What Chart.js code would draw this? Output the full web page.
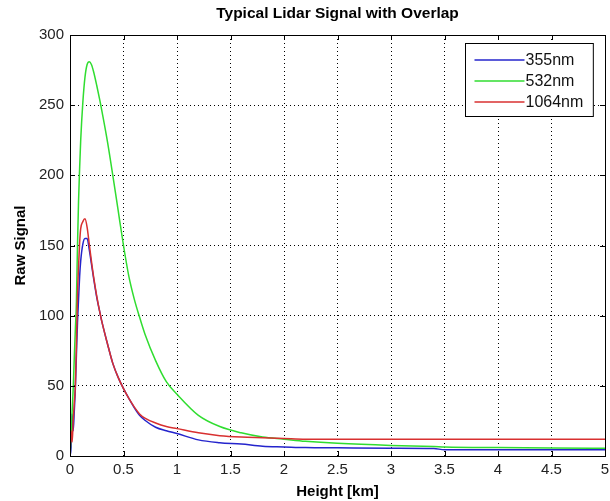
<!DOCTYPE html>
<html>
<head>
<meta charset="utf-8">
<script src="https://cdn.jsdelivr.net/npm/chart.js@4"></script>
<style>
  html, body { margin: 0; padding: 0; background: #fff; }
  #wrap { width: 610px; height: 501px; }
</style>
</head>
<body>
<div id="wrap"><canvas id="c" width="610" height="501"></canvas></div>
<script>
// values (height in km, raw signal)
const heights = [0, 0.01, 0.02, 0.03, 0.04, 0.05, 0.06, 0.07, 0.08, 0.09, 0.1, 0.12, 0.14, 0.16, 0.18,
  0.2, 0.22, 0.25, 0.28, 0.3, 0.35, 0.4, 0.45, 0.5, 0.55, 0.6, 0.65, 0.7, 0.8, 0.9, 1.0,
  1.2, 1.4, 1.6, 1.8, 2.0, 2.2, 2.5, 3.0, 3.4, 3.5, 4.0, 4.5, 5.0];

const signal355 = [0, 6, 30, 18, 32, 48, 72, 95, 112, 128, 139, 151, 155, 155, 147,
  137, 127, 113, 102, 95, 80, 66, 56, 48, 41, 34.5, 29, 25.5, 20.5, 18, 16,
  11.5, 9.5, 8.5, 7, 6.5, 6, 5.8, 5.5, 5.3, 4.5, 4.5, 4.5, 4.5];

const signal532 = [0, 15, 32, 48, 70, 90, 110, 150, 182, 205, 225, 252, 270, 279, 281,
  279, 274, 264, 253, 245, 224, 200, 175, 150, 128, 112, 99, 87, 68, 53, 44,
  29, 21, 16.5, 13.5, 12, 10.5, 9, 7.5, 6.8, 6.5, 6, 5.7, 5.5];

const signal1064 = [0, 18, 10, 25, 38, 50, 80, 115, 135, 152, 162, 167, 169, 163, 151,
  139, 128, 114, 102, 95, 80, 66, 56, 48, 41, 35, 30, 27, 23.5, 21, 19.5,
  16.5, 14.5, 13.5, 13, 12.5, 12, 12, 12, 12, 12, 12, 12, 12];

const seriesNames = ['355nm', '532nm', '1064nm'];
const seriesColors = ['#2424cc', '#30dd30', '#d83030'];

const xTicks = [0, 0.5, 1, 1.5, 2, 2.5, 3, 3.5, 4, 4.5, 5];
const yTicks = [0, 50, 100, 150, 200, 250, 300];

const chartTitle = 'Typical Lidar Signal with Overlap';
const FONT = 'Arial, "Liberation Sans", sans-serif';
const pts = (vals) => heights.map((h, i) => ({ x: h, y: vals[i] }));

// title centred over the plot box (matlab style), not over the canvas
const plotTitle = {
  id: 'plotTitle',
  afterDraw(chart) {
    const { ctx, chartArea: a } = chart;
    ctx.save();
    ctx.font = 'bold 15.5px ' + FONT;
    ctx.fillStyle = '#000';
    ctx.textAlign = 'center';
    ctx.textBaseline = 'middle';
    ctx.fillText(chartTitle, (a.left + a.right) / 2, 14);
    ctx.restore();
  }
};

// matlab style frame + inward ticks
const framePlugin = {
  id: 'frame',
  afterDatasetsDraw(chart) {
    const { ctx, chartArea: a, scales } = chart;
    ctx.save();
    ctx.strokeStyle = '#000';
    ctx.lineWidth = 1;
    ctx.setLineDash([]);
    ctx.beginPath();
    for (const t of xTicks) {
      const px = Math.round(scales.x.getPixelForValue(t)) + 0.5;
      ctx.moveTo(px, a.bottom); ctx.lineTo(px, a.bottom - 5);
      ctx.moveTo(px, a.top); ctx.lineTo(px, a.top + 5);
    }
    for (const t of yTicks) {
      const py = Math.round(scales.y.getPixelForValue(t)) + 0.5;
      ctx.moveTo(a.left, py); ctx.lineTo(a.left + 5, py);
      ctx.moveTo(a.right, py); ctx.lineTo(a.right - 5, py);
    }
    ctx.stroke();
    ctx.strokeRect(Math.round(a.left) + 0.5, Math.round(a.top) + 0.5,
      Math.round(a.right - a.left), Math.round(a.bottom - a.top));
    ctx.restore();
  }
};

// boxed legend in the top right of the plot
const boxLegend = {
  id: 'boxLegend',
  afterDraw(chart) {
    const { ctx, chartArea: a } = chart;
    const ds = chart.data.datasets;
    ctx.save();
    ctx.font = '16px ' + FONT;
    const tw = Math.max(...ds.map(d => ctx.measureText(d.label).width));
    const w = 9 + 50 + 1 + tw + 10;
    const h = 73;
    const x0 = Math.round(a.right - 12 - w) + 0.5;
    const y0 = Math.round(a.top + 8) + 0.5;
    ctx.fillStyle = '#fff';
    ctx.fillRect(x0, y0, w, h);
    ctx.strokeStyle = '#000';
    ctx.lineWidth = 1;
    ctx.strokeRect(x0, y0, w, h);
    ds.forEach((d, i) => {
      const cy = y0 + 16.5 + i * 21;
      ctx.strokeStyle = d.borderColor;
      ctx.lineWidth = 1.5;
      ctx.beginPath();
      ctx.moveTo(x0 + 9, cy); ctx.lineTo(x0 + 59, cy);
      ctx.stroke();
      ctx.fillStyle = '#111';
      ctx.textBaseline = 'middle';
      ctx.fillText(d.label, x0 + 60, cy + 1);
    });
    ctx.restore();
  }
};

const ds = (i, vals, order) => ({
  label: seriesNames[i],
  data: pts(vals),
  borderColor: seriesColors[i],
  backgroundColor: seriesColors[i],
  borderWidth: 1.5,
  pointRadius: 0,
  cubicInterpolationMode: 'monotone',
  order
});

new Chart(document.getElementById('c'), {
  type: 'line',
  data: {
    datasets: [
      ds(0, signal355, 2),
      ds(1, signal532, 1),
      ds(2, signal1064, 0)
    ]
  },
  options: {
    responsive: false,
    animation: false,
    layout: { padding: { top: 35, right: 5, bottom: 0, left: 0 } },
    plugins: {
      legend: { display: false },
      tooltip: { enabled: false },
      title: { display: false }
    },
    scales: {
      x: {
        type: 'linear',
        min: 0, max: 5,
        afterBuildTicks: (s) => { s.ticks = xTicks.map(v => ({ value: v })); },
        afterFit: (s) => { s.height = 45; s.paddingRight = 0; s.paddingLeft = 0; },
        ticks: {
          color: '#222', padding: 5,
          font: { family: FONT, size: 15 },
          maxRotation: 0, autoSkip: false,
          callback: (v) => String(v)
        },
        grid: { color: '#000', lineWidth: 1, drawTicks: false },
        border: { display: false, dash: [1, 3] },
        title: {
          display: true, text: 'Height [km]', color: '#000', padding: 0,
          font: { family: FONT, size: 15, weight: 'bold' }
        }
      },
      y: {
        type: 'linear',
        min: 0, max: 300,
        afterBuildTicks: (s) => { s.ticks = yTicks.map(v => ({ value: v })); },
        afterFit: (s) => { s.width = 70; s.paddingTop = 0; s.paddingBottom = 0; },
        ticks: {
          color: '#222', padding: 6,
          font: { family: FONT, size: 15 },
          callback: (v) => String(v)
        },
        grid: { color: '#000', lineWidth: 1, drawTicks: false },
        border: { display: false, dash: [1, 3] },
        title: {
          display: true, text: 'Raw Signal', color: '#000', padding: { top: 12, bottom: 0 },
          font: { family: FONT, size: 15, weight: 'bold' }
        }
      }
    }
  },
  plugins: [framePlugin, boxLegend, plotTitle]
});
</script>
</body>
</html>
